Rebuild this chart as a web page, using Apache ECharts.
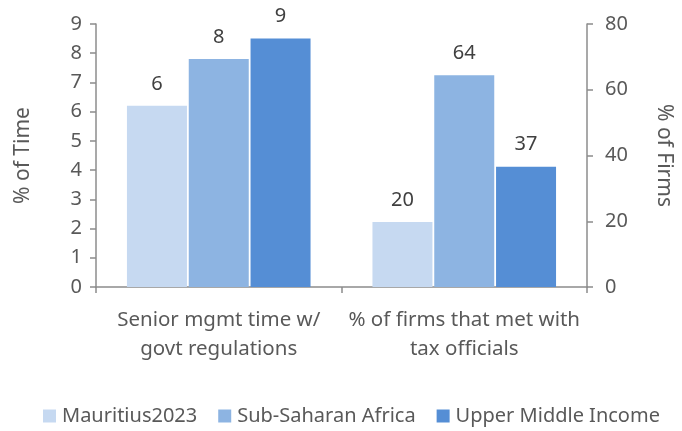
<!DOCTYPE html>
<html>
<head>
<meta charset="utf-8">
<script src="https://cdn.jsdelivr.net/npm/echarts@6/dist/echarts.min.js"></script>
<style>
html, body { margin: 0; padding: 0; background: #fff; }
#main { width: 682px; height: 431px; }
</style>
</head>
<body>
<div id="main"></div>
<script>
// data
var categories = ['Senior mgmt time w/\ngovt regulations', '% of firms that met with\ntax officials'];
var seriesNames = ['Mauritius2023', 'Sub-Saharan Africa', 'Upper Middle Income'];
var colors = ['#C6D9F1', '#8DB4E2', '#558ED5'];
var timeValues = [6.2, 7.8, 8.5];     // % of Time (left axis)
var firmsValues = [19.8, 64.4, 36.6]; // % of Firms (right axis)

var font = 'Noto Sans';
var textColor = '#595959';
var axisColor = '#8c8c8c';

function labelFmt(p) { return Math.round(p.value); }

var series = [];
// left group on left axis
seriesNames.forEach(function (n, i) {
    series.push({
        name: n,
        type: 'bar',
        xAxisIndex: 0,
        yAxisIndex: 0,
        barWidth: 60,
        barGap: '3%',
        itemStyle: { color: colors[i] },
        label: {
            show: true, position: 'top', distance: 12,
            fontFamily: font, fontSize: 20, color: '#404040',
            formatter: labelFmt
        },
        data: [timeValues[i], '-']
    });
});
// right group on right axis
seriesNames.forEach(function (n, i) {
    series.push({
        name: n,
        type: 'bar',
        xAxisIndex: 1,
        yAxisIndex: 1,
        barWidth: 60,
        barGap: '3%',
        itemStyle: { color: colors[i] },
        label: {
            show: true, position: 'top', distance: 12,
            fontFamily: font, fontSize: 20, color: '#404040',
            formatter: labelFmt
        },
        data: ['-', firmsValues[i]]
    });
});

var myChart = echarts.init(document.getElementById('main'));
var option = {
    animation: false,
    textStyle: { fontFamily: font },
    grid: { left: 96, right: 95, top: 24, bottom: 144 },
    legend: {
        data: seriesNames,
        bottom: 0,
        left: 38,
        width: 670,
        itemWidth: 13,
        itemHeight: 13,
        itemGap: 21,
        icon: 'rect',
        textStyle: { fontFamily: font, fontSize: 20, color: textColor, padding: [0, 0, 0, 1] }
    },
    xAxis: [{
        type: 'category',
        data: categories,
        axisLine: { lineStyle: { color: axisColor, width: 1.5 } },
        axisTick: { show: true, length: 6, lineStyle: { color: axisColor, width: 1.5 } },
        axisLabel: { fontFamily: font, fontSize: 20.5, color: textColor, lineHeight: 29, margin: 19, interval: 0 }
    }, {
        type: 'category',
        data: categories,
        show: false
    }],
    yAxis: [{
        type: 'value',
        min: 0, max: 9, interval: 1,
        name: '% of Time',
        nameLocation: 'middle',
        nameGap: 62,
        nameTextStyle: { fontFamily: font, fontSize: 21, color: textColor },
        axisLine: { show: true, lineStyle: { color: axisColor, width: 1.5 } },
        axisTick: { show: true, length: 6, lineStyle: { color: axisColor, width: 1.5 } },
        axisLabel: { fontFamily: font, fontSize: 20, color: textColor, margin: 14 },
        splitLine: { show: false }
    }, {
        type: 'value',
        min: 0, max: 80, interval: 20,
        position: 'right',
        name: '% of Firms',
        nameLocation: 'middle',
        nameGap: 66,
        nameRotate: -90,
        nameTextStyle: { fontFamily: font, fontSize: 21, color: textColor },
        axisLine: { show: true, lineStyle: { color: axisColor, width: 1.5 } },
        axisTick: { show: true, length: 6, lineStyle: { color: axisColor, width: 1.5 } },
        axisLabel: { fontFamily: font, fontSize: 20, color: textColor, margin: 18 },
        splitLine: { show: false }
    }],
    series: series
};
myChart.setOption(option);
</script>
</body>
</html>
